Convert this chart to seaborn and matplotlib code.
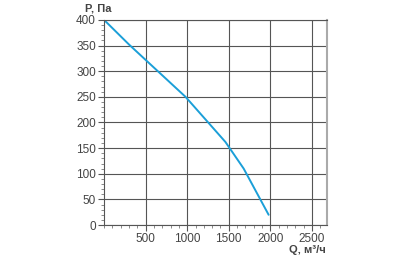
import numpy as np
import pandas as pd
import matplotlib
matplotlib.use("Agg")
import matplotlib.pyplot as plt
import seaborn as sns
from matplotlib.ticker import MultipleLocator

sns.set_style("white")
plt.rcParams['font.family'] = ['Liberation Sans', 'DejaVu Sans']

# ===== data =====
flow_q = [0, 300, 980, 1460, 1680, 1980]
pressure_p = [400, 352, 250, 162, 110, 20]
x_ticks = [500, 1000, 1500, 2000, 2500]
y_ticks = [0, 50, 100, 150, 200, 250, 300, 350, 400]

df = pd.DataFrame({"Q": flow_q, "P": pressure_p})

fig = plt.figure(figsize=(4.1, 2.56), dpi=100)
ax = fig.add_axes([0.254, 0.121, 0.543, 0.801])

sns.lineplot(data=df, x="Q", y="P", ax=ax, color="#1b9fd8", linewidth=1.4, sort=False)

ax.set_xlim(0, 2680)
ax.set_ylim(0, 400)
ax.set_xticks(x_ticks)
ax.set_yticks(y_ticks)
ax.xaxis.set_minor_locator(MultipleLocator(100))
ax.yaxis.set_minor_locator(MultipleLocator(10))
ax.grid(True, which="major", color="#555555", linewidth=0.8)
ax.tick_params(which="major", direction="out", length=4, width=0.8, color="#555555",
               labelsize=8.5, labelcolor="#444444", pad=2, bottom=True, left=True)
ax.tick_params(which="minor", direction="out", length=2.5, width=0.6, color="#777777",
               bottom=True, left=True)
for s in ax.spines.values():
    s.set_color("#555555")
    s.set_linewidth(0.8)
ax.spines["right"].set_color("#aaaaaa")
ax.spines["right"].set_linewidth(1.5)
ax.set_xlabel("")
ax.set_ylabel("")

fig.text(0.207, 0.965, "P, Па", fontsize=8, fontweight="bold", color="#444444",
         ha="left", va="center")
fig.text(0.795, 0.022, "Q, м³/ч", fontsize=8, fontweight="bold", color="#444444",
         ha="right", va="center")

fig.savefig("out.png", dpi=100)
